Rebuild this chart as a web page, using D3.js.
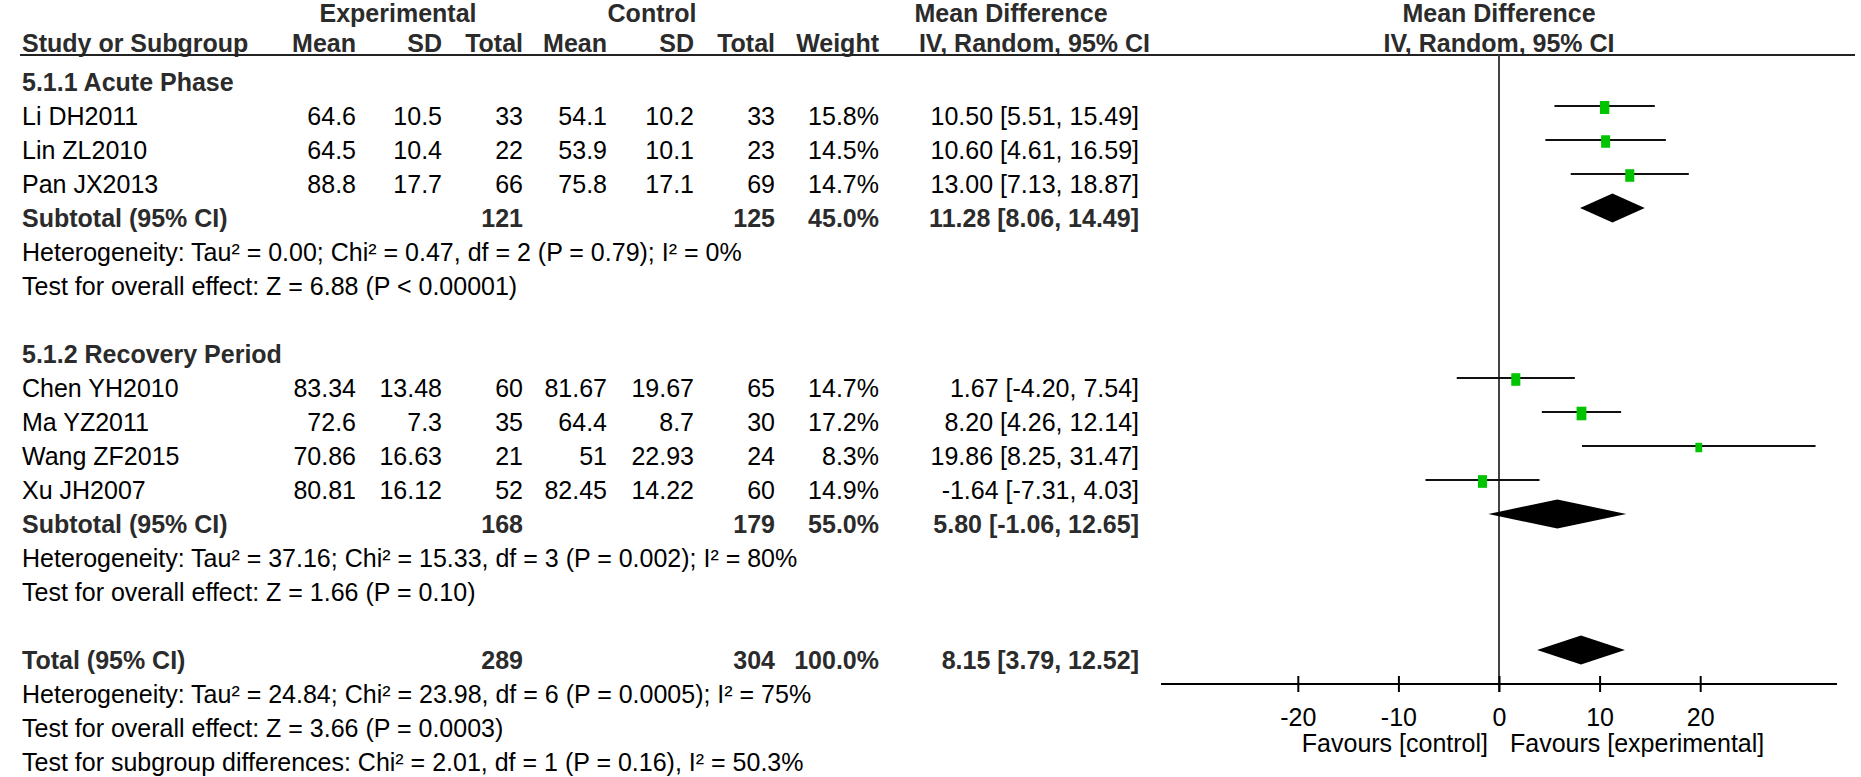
<!DOCTYPE html>
<html><head><meta charset="utf-8">
<script src="https://cdn.jsdelivr.net/npm/d3@7"></script>
<style>
html,body{margin:0;padding:0;background:#fff;}
svg{display:block;font-family:"Liberation Sans",Arial,sans-serif;}
</style></head>
<body>
<svg id="chart" width="1861" height="777"></svg>
<script>
// ---- data ----
const studies   = ["Li DH2011","Lin ZL2010","Pan JX2013","Chen YH2010","Ma YZ2011","Wang ZF2015","Xu JH2007"];
const studyGroup = [0,0,0,1,1,1,1];
const expMean   = [64.6,64.5,88.8,83.34,72.6,70.86,80.81];
const expSD     = [10.5,10.4,17.7,13.48,7.3,16.63,16.12];
const expN      = [33,22,66,60,35,21,52];
const ctlMean   = [54.1,53.9,75.8,81.67,64.4,51,82.45];
const ctlSD     = [10.2,10.1,17.1,19.67,8.7,22.93,14.22];
const ctlN      = [33,23,69,65,30,24,60];
const weights   = [15.8,14.5,14.7,14.7,17.2,8.3,14.9];
const md        = [10.50,10.60,13.00,1.67,8.20,19.86,-1.64];
const mdLo      = [5.51,4.61,7.13,-4.20,4.26,8.25,-7.31];
const mdHi      = [15.49,16.59,18.87,7.54,12.14,31.47,4.03];

const groupNames = ["5.1.1 Acute Phase","5.1.2 Recovery Period"];
const subExpN    = [121,168];
const subCtlN    = [125,179];
const subWeight  = [45.0,55.0];
const subMD      = [11.28,5.80];
const subLo      = [8.06,-1.06];
const subHi      = [14.49,12.65];
const subHet     = ["Heterogeneity: Tau\u00b2 = 0.00; Chi\u00b2 = 0.47, df = 2 (P = 0.79); I\u00b2 = 0%",
                    "Heterogeneity: Tau\u00b2 = 37.16; Chi\u00b2 = 15.33, df = 3 (P = 0.002); I\u00b2 = 80%"];
const subTest    = ["Test for overall effect: Z = 6.88 (P < 0.00001)",
                    "Test for overall effect: Z = 1.66 (P = 0.10)"];

const totExpN = 289, totCtlN = 304, totWeight = 100.0, totMD = 8.15, totLo = 3.79, totHi = 12.52;
const totNotes = ["Heterogeneity: Tau\u00b2 = 24.84; Chi\u00b2 = 23.98, df = 6 (P = 0.0005); I\u00b2 = 75%",
                  "Test for overall effect: Z = 3.66 (P = 0.0003)",
                  "Test for subgroup differences: Chi\u00b2 = 2.01, df = 1 (P = 0.16), I\u00b2 = 50.3%"];

const tickValues = [-20,-10,0,10,20];
const favourLabels = ["Favours [control]","Favours [experimental]"];

// ---- layout ----
const svg = d3.select("#chart");
const FS = 25;
const boldCol = "#2b2b2b";
const colX = {name:22, eMean:356, eSD:442, eN:523, cMean:607, cSD:694, cN:775, w:879, ci:1139};
const x = d3.scaleLinear().domain([-33.6,33.6]).range([1161,1837]);
const y = d3.scaleLinear().domain([0,20]).range([72,752]);
const textOff = 9.5;

function txt(xp, yp, s, opts={}) {
  return svg.append("text").attr("x",xp).attr("y",yp)
    .attr("dominant-baseline",opts.baseline||"central")
    .attr("text-anchor",opts.anchor||"start")
    .attr("font-size",opts.size||FS)
    .attr("font-weight",opts.bold?"bold":"normal")
    .attr("fill",opts.bold?boldCol:"#000")
    .text(s);
}
const f2 = v => v.toFixed(2);
const ciStr = (m,l,h)=> `${f2(m)} [${f2(l)}, ${f2(h)}]`;

// headers
const h1y = 22;
txt(398, h1y, "Experimental", {anchor:"middle", bold:true, baseline:"alphabetic"});
txt(652, h1y, "Control", {anchor:"middle", bold:true, baseline:"alphabetic"});
txt(1011, h1y, "Mean Difference", {anchor:"middle", bold:true, baseline:"alphabetic"});
txt(1499, h1y, "Mean Difference", {anchor:"middle", bold:true, baseline:"alphabetic"});
const h2y = 43;
txt(colX.name, h2y, "Study or Subgroup", {bold:true});
txt(colX.eMean, h2y, "Mean", {anchor:"end", bold:true});
txt(colX.eSD, h2y, "SD", {anchor:"end", bold:true});
txt(colX.eN, h2y, "Total", {anchor:"end", bold:true});
txt(colX.cMean, h2y, "Mean", {anchor:"end", bold:true});
txt(colX.cSD, h2y, "SD", {anchor:"end", bold:true});
txt(colX.cN, h2y, "Total", {anchor:"end", bold:true});
txt(colX.w, h2y, "Weight", {anchor:"end", bold:true});
txt(1150, h2y, "IV, Random, 95% CI", {anchor:"end", bold:true});
txt(1499, h2y, "IV, Random, 95% CI", {anchor:"middle", bold:true});
svg.append("line").attr("x1",20).attr("x2",1855).attr("y1",55).attr("y2",55)
  .attr("stroke","#222").attr("stroke-width",2.2);

// zero line
svg.append("line").attr("x1",x(0)).attr("x2",x(0)).attr("y1",55).attr("y2",692)
  .attr("stroke","#444").attr("stroke-width",2);

// rows
let row = 0;
const diamond = (m,l,h,yy)=> {
  const hh = 14.5;
  svg.append("path")
    .attr("d",`M${x(l)},${yy}L${x(m)},${yy-hh}L${x(h)},${yy}L${x(m)},${yy+hh}Z`)
    .attr("fill","#000");
};
groupNames.forEach((g,gi)=>{
  txt(colX.name, y(row)+textOff, g, {bold:true}); row++;
  studies.forEach((s,i)=>{
    if (studyGroup[i]!==gi) return;
    const yy = y(row), ty = yy+textOff;
    txt(colX.name, ty, s);
    txt(colX.eMean, ty, String(expMean[i]), {anchor:"end"});
    txt(colX.eSD, ty, String(expSD[i]), {anchor:"end"});
    txt(colX.eN, ty, String(expN[i]), {anchor:"end"});
    txt(colX.cMean, ty, String(ctlMean[i]), {anchor:"end"});
    txt(colX.cSD, ty, String(ctlSD[i]), {anchor:"end"});
    txt(colX.cN, ty, String(ctlN[i]), {anchor:"end"});
    txt(colX.w, ty, weights[i].toFixed(1)+"%", {anchor:"end"});
    txt(colX.ci, ty, ciStr(md[i],mdLo[i],mdHi[i]), {anchor:"end"});
    svg.append("line").attr("x1",x(mdLo[i])).attr("x2",x(mdHi[i])).attr("y1",yy).attr("y2",yy)
      .attr("stroke","#111").attr("stroke-width",2.2);
    const hgt = 3.28*Math.sqrt(weights[i]), wid = hgt*0.72;
    svg.append("rect").attr("x",x(md[i])-wid/2).attr("y",yy-hgt/2+1.5)
      .attr("width",wid).attr("height",hgt).attr("fill","#00c400");
    row++;
  });
  const yy = y(row), ty = yy+textOff;
  txt(colX.name, ty, "Subtotal (95% CI)", {bold:true});
  txt(colX.eN, ty, String(subExpN[gi]), {anchor:"end", bold:true});
  txt(colX.cN, ty, String(subCtlN[gi]), {anchor:"end", bold:true});
  txt(colX.w, ty, subWeight[gi].toFixed(1)+"%", {anchor:"end", bold:true});
  txt(colX.ci, ty, ciStr(subMD[gi],subLo[gi],subHi[gi]), {anchor:"end", bold:true});
  diamond(subMD[gi],subLo[gi],subHi[gi],yy);
  row++;
  txt(colX.name, y(row)+textOff, subHet[gi]); row++;
  txt(colX.name, y(row)+textOff, subTest[gi]); row++;
  row++;
});
{
  const yy = y(row), ty = yy+textOff;
  txt(colX.name, ty, "Total (95% CI)", {bold:true});
  txt(colX.eN, ty, String(totExpN), {anchor:"end", bold:true});
  txt(colX.cN, ty, String(totCtlN), {anchor:"end", bold:true});
  txt(colX.w, ty, totWeight.toFixed(1)+"%", {anchor:"end", bold:true});
  txt(colX.ci, ty, ciStr(totMD,totLo,totHi), {anchor:"end", bold:true});
  diamond(totMD,totLo,totHi,yy);
  row++;
  totNotes.forEach(n=>{ txt(colX.name, y(row)+textOff, n); row++; });
}

// axis
const axisY = 684;
const ax = svg.append("g").attr("transform",`translate(0,${axisY})`)
  .call(d3.axisBottom(x).tickValues(tickValues).tickFormat(d => String(d))
        .tickSizeOuter(0).tickSize(8).tickPadding(16));
ax.select(".domain").remove();
ax.selectAll(".tick line").attr("y1",-8).attr("y2",8).attr("stroke","#000").attr("stroke-width",2);
ax.selectAll(".tick text").attr("font-size",FS).attr("fill","#000")
  .attr("font-family","'Liberation Sans',Arial,sans-serif").attr("dy","0.71em");
svg.append("line").attr("x1",x.range()[0]).attr("x2",x.range()[1]).attr("y1",axisY).attr("y2",axisY)
  .attr("stroke","#000").attr("stroke-width",2.2);
txt(x(0)-11, 743, favourLabels[0], {anchor:"end"});
txt(x(0)+11, 743, favourLabels[1], {anchor:"start"});
</script>
</body></html>
